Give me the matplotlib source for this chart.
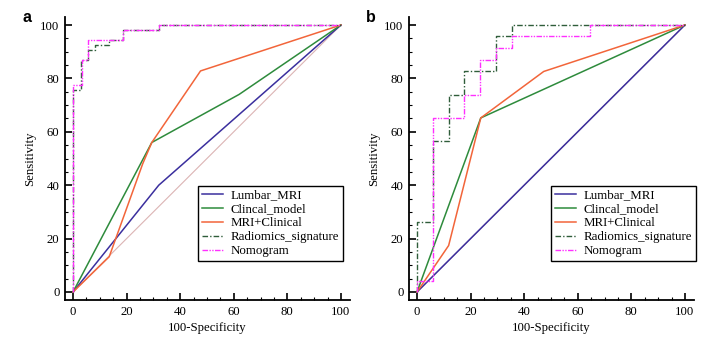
import matplotlib.pyplot as plt
from matplotlib.ticker import MultipleLocator

plt.rcParams['font.family'] = ['Liberation Serif', 'DejaVu Serif']

LABELS = ["Lumbar_MRI", "Clincal_model", "MRI+Clinical",
          "Radiomics_signature", "Nomogram"]

# panel a (training)
a_mri_x = [0, 32, 100]
a_mri_y = [0, 40, 100]
a_clin_x = [0, 29.4, 62, 100]
a_clin_y = [0, 56, 74, 100]
a_comb_x = [0, 13.5, 26, 29.4, 47.6, 100]
a_comb_y = [0, 13.2, 48, 56, 82.8, 100]
a_rad_x = [0, 0, 3.0, 3.0, 5.7, 5.7, 8.2, 8.2, 13.6, 13.6, 18.8, 18.8, 32, 32, 100]
a_rad_y = [0, 75.5, 75.5, 86.8, 86.8, 90.6, 90.6, 92.5, 92.5, 94.3, 94.3, 98.1, 98.1, 100, 100]
a_nom_x = [0, 0, 3.4, 3.4, 5.7, 5.7, 18.8, 18.8, 32, 32, 100]
a_nom_y = [0, 77.4, 77.4, 86.8, 86.8, 94.3, 94.3, 98.1, 98.1, 100, 100]

# panel b (validation)
b_mri_x = [0, 100]
b_mri_y = [0, 100]
b_clin_x = [0, 23.8, 100]
b_clin_y = [0, 65.2, 100]
b_comb_x = [0, 11.8, 23.8, 47.3, 100]
b_comb_y = [0, 17.4, 65.2, 82.6, 100]
b_rad_x = [0, 0, 5.9, 5.9, 11.8, 11.8, 17.6, 17.6, 29.4, 29.4, 35.3, 35.3, 100]
b_rad_y = [0, 26.1, 26.1, 56.5, 56.5, 73.9, 73.9, 82.6, 82.6, 95.7, 95.7, 100, 100]
b_nom_x = [0, 0, 5.9, 5.9, 17.6, 17.6, 23.5, 23.5, 29.4, 29.4, 35.3, 35.3, 64.7, 64.7, 100]
b_nom_y = [0, 4.3, 4.3, 65.2, 65.2, 73.9, 73.9, 87.0, 87.0, 91.3, 91.3, 95.7, 95.7, 100, 100]

diag = [0, 100]


def draw_panel(ax, curves, letter, legend_x):
    ax.plot(diag, diag, color="#dcb4b4", lw=0.8)
    styles = [
        dict(color="#3b2f9e", lw=1.1, ls="-"),
        dict(color="#2e8b3c", lw=1.1, ls="-"),
        dict(color="#f2653a", lw=1.1, ls="-"),
        dict(color="#2f5d3a", lw=1.0, ls=(0, (4, 1.5, 1, 1.5))),
        dict(color="#ff30ff", lw=1.0, ls=(0, (4, 1, 1, 1, 1, 1))),
    ]
    for (x, y), lab, st in zip(curves, LABELS, styles):
        ax.plot(x, y, label=lab, **st)

    ax.set_xlim(-3, 103.4)
    ax.set_ylim(-3, 103)
    for s in ["top", "right"]:
        ax.spines[s].set_visible(False)
    for s in ["left", "bottom"]:
        ax.spines[s].set_linewidth(1.3)
    ax.xaxis.set_major_locator(MultipleLocator(20))
    ax.xaxis.set_minor_locator(MultipleLocator(5))
    ax.yaxis.set_major_locator(MultipleLocator(20))
    ax.yaxis.set_minor_locator(MultipleLocator(5))
    ax.tick_params(which="major", direction="in", length=5, width=1.2,
                   labelsize=9.2, pad=4)
    ax.tick_params(which="minor", direction="in", length=2.5, width=0.8)
    ax.set_xlabel("100-Specificity", fontsize=9.2, labelpad=3)
    ax.set_ylabel("Sensitivity", fontsize=9.2, labelpad=3)

    leg = ax.legend(loc="lower right", bbox_to_anchor=(legend_x, 0.138),
                    fontsize=9.3, frameon=True, fancybox=False,
                    edgecolor="black", framealpha=1, handlelength=1.6,
                    handletextpad=0.6, labelspacing=0.14, borderpad=0.3,
                    borderaxespad=0)
    leg.get_frame().set_linewidth(1.0)

    ax.text(-0.15, 1.0, letter, transform=ax.transAxes, fontsize=11.5,
            fontweight="bold", family="Liberation Sans", va="center")


fig = plt.figure(figsize=(7.04, 3.42), dpi=100)
ax_a = fig.add_axes([65 / 704, 42 / 342, 285 / 704, 283 / 342])
ax_b = fig.add_axes([409 / 704, 42 / 342, 285 / 704, 283 / 342])

draw_panel(ax_a, [(a_mri_x, a_mri_y), (a_clin_x, a_clin_y), (a_comb_x, a_comb_y),
                  (a_rad_x, a_rad_y), (a_nom_x, a_nom_y)], "a", 0.975)
draw_panel(ax_b, [(b_mri_x, b_mri_y), (b_clin_x, b_clin_y), (b_comb_x, b_comb_y),
                  (b_rad_x, b_rad_y), (b_nom_x, b_nom_y)], "b", 1.006)

fig.savefig("out.png", dpi=100)
